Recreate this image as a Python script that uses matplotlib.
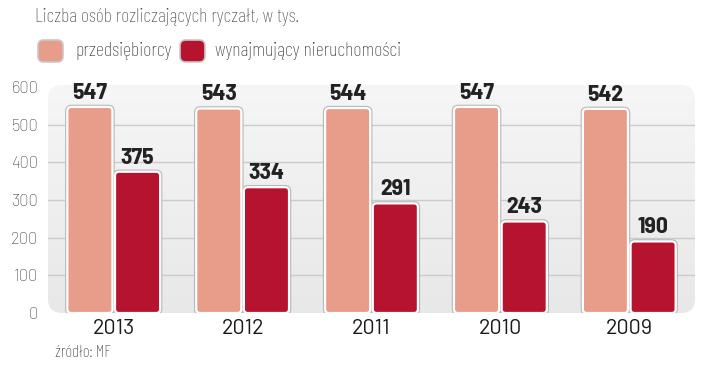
import matplotlib
matplotlib.use("Agg")
import matplotlib.pyplot as plt
import numpy as np
from matplotlib.patches import FancyBboxPatch

years = ["2013", "2012", "2011", "2010", "2009"]
przedsiebiorcy = [547, 543, 544, 547, 542]
wynajmujacy = [375, 334, 291, 243, 190]
yticks = [0, 100, 200, 300, 400, 500, 600]
series_names = ["przedsiębiorcy", "wynajmujący nieruchomości"]
title = "Liczba osób rozliczających ryczałt, w tys."
source = "źródło: MF"

c1 = "#E89C8A"
c2 = "#B5132E"

FB = ["Barlow Condensed", "DejaVu Sans"]
FSC = ["Barlow Semi Condensed", "DejaVu Sans"]
FR = ["Barlow", "DejaVu Sans"]

W, H = 713, 376
fig = plt.figure(figsize=(W/100, H/100), dpi=100)
L, R, T, B = 48, 695, 85, 313
ax = fig.add_axes([L/W, 1-B/H, (R-L)/W, (B-T)/H])
ax.set_xlim(-0.51, 4.51)
ymax = 600*(313-85)/(313-87)
ax.set_ylim(0, ymax)
for s in ax.spines.values():
    s.set_visible(False)

grad = np.linspace(0, 1, 256).reshape(-1, 1)
im = ax.imshow(grad, extent=[-0.51, 4.51, 0, ymax], aspect="auto",
               cmap=matplotlib.colors.LinearSegmentedColormap.from_list("g", ["#E8E8E9", "#F6F6F6"]),
               origin="lower", zorder=0)
xpx = 5.02/(R-L)
ypx = ymax/(B-T)
panel = FancyBboxPatch((-0.51, 0), 5.02, ymax, boxstyle=f"round,pad=0,rounding_size={14*xpx}",
                       mutation_aspect=ypx/xpx, transform=ax.transData, facecolor="none", edgecolor="none")
ax.add_patch(panel)
im.set_clip_path(panel)

for v in [100, 200, 300, 400, 500]:
    ax.axhline(v, color="#CBCBCB", lw=1, zorder=1)

x = np.arange(len(years))
w = 0.35
off = 0.185
b1 = ax.bar(x - off, przedsiebiorcy, w, color=c1)
b2 = ax.bar(x + off, wynajmujacy, w, color=c2)

def roundify(bars, color):
    for b in bars:
        bx, by, bw, bh = b.get_x(), b.get_y(), b.get_width(), b.get_height()
        b.set_visible(False)
        outer = FancyBboxPatch((bx, by), bw, bh, boxstyle=f"round,pad=0,rounding_size={4*xpx}",
                               mutation_aspect=ypx/xpx, facecolor=color, edgecolor="#B8B8B8", lw=3.2, zorder=2)
        inner = FancyBboxPatch((bx, by), bw, bh, boxstyle=f"round,pad=0,rounding_size={4*xpx}",
                               mutation_aspect=ypx/xpx, facecolor=color, edgecolor="white", lw=1.6, zorder=3)
        ax.add_patch(outer)
        ax.add_patch(inner)
        ax.text(bx + bw/2, by + bh + 4*ypx, f"{int(bh)}", ha="center", va="bottom",
                fontsize=17, fontweight="bold", color="#222222", family=FSC, zorder=4)

roundify(b1, c1)
roundify(b2, c2)

ax.set_yticks(yticks)
ax.set_yticklabels([str(t) for t in yticks], fontsize=12, color="#3A3A3A", family=FR, fontweight="light")
ax.set_xticks(x)
ax.set_xticklabels(years, fontsize=15.5, color="#1A1A1A", family=FR)
ax.tick_params(axis="y", length=0, pad=7)
ax.tick_params(axis="x", length=0, pad=4)

fig.text(35/W, 1-17/H, title, fontsize=14.3, color="#484848", va="center", ha="left", family=FB, fontweight="light")
for nm, col, px, tx in [(series_names[0], c1, 38, 75), (series_names[1], c2, 180, 215)]:
    pa = FancyBboxPatch((px/W, 1-62/H), 25/W, 22/H, boxstyle="round,pad=0,rounding_size=0.008",
                        transform=fig.transFigure, facecolor=col, edgecolor="#C8C8C8", lw=1.2,
                        mutation_aspect=W/H)
    fig.patches.append(pa)
    fig.text(tx/W, 1-51/H, nm, fontsize=14.5, color="#333333", va="center", ha="left", family=FB, fontweight="light")

fig.text(55/W, 1-353/H, source, fontsize=12, color="#333333", va="center", ha="left", family=FB, fontweight="light")

fig.savefig("out.png", dpi=100, facecolor="white")
